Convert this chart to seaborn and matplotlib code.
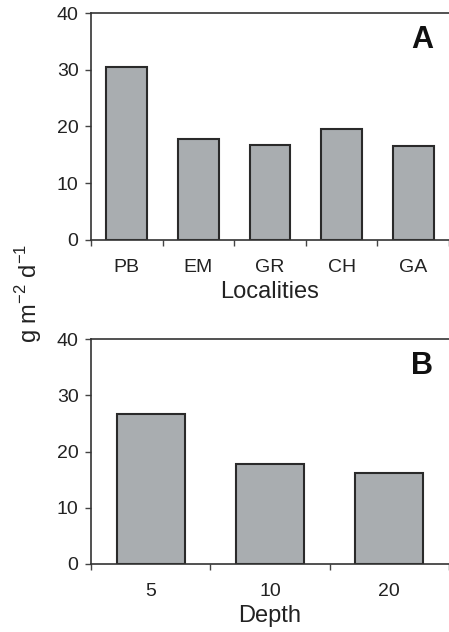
import matplotlib
matplotlib.use("Agg")
import matplotlib.pyplot as plt
import seaborn as sns
import pandas as pd
import numpy as np

# Sedimentation rates by locality and by depth
localities = ["PB", "EM", "GR", "CH", "GA"]
locality_rates = [30.5, 17.8, 16.7, 19.6, 16.6]

depths = ["5", "10", "20"]
depth_rates = [26.7, 17.7, 16.2]

y_ticks = [0, 10, 20, 30, 40]

sns.set_theme(style="white")
plt.rcParams["font.family"] = ["Liberation Sans", "DejaVu Sans"]
plt.rcParams["mathtext.fontset"] = "custom"
plt.rcParams["mathtext.rm"] = "Liberation Sans"

text_color = "#222222"
bar_color = "#a9adb0"
edge_color = "#2a2a2a"

fig = plt.figure(figsize=(4.49, 6.32), dpi=100)
W, H = 449, 632


def make_axes(top_px, bottom_px):
    left = 91 / W
    return fig.add_axes([left, 1 - bottom_px / H, 1.0 - left, (bottom_px - top_px) / H])


def style_axes(ax, n, xlabel, tag):
    ax.set_ylim(0, 40)
    ax.set_xlim(-0.5, n - 0.5)
    ax.set_yticks(y_ticks)
    ax.set_yticklabels([str(t) for t in y_ticks])
    ax.set_xticks(np.arange(n))
    ax.set_xticks(np.arange(n + 1) - 0.5, minor=True)
    ax.tick_params(axis="x", which="major", length=0, pad=14, labelsize=14, labelcolor=text_color)
    ax.tick_params(axis="x", which="minor", length=4, width=1, color="#444444", direction="out", bottom=True)
    ax.tick_params(axis="y", length=4, width=1, color="#444444", direction="out", left=True,
                   labelsize=14, labelcolor=text_color, pad=5)
    for side in ["left", "top", "bottom"]:
        ax.spines[side].set_visible(True)
        ax.spines[side].set_color("#333333")
        ax.spines[side].set_linewidth(1.2)
    ax.spines["right"].set_visible(False)
    ax.set_xlabel(xlabel, fontsize=17, color=text_color, labelpad=3)
    ax.set_ylabel("")
    ax.text(0.925, 0.88, tag, transform=ax.transAxes, fontsize=22, fontweight="bold",
            color="#111111", ha="center", va="center")


ax_a = make_axes(13, 240)
df_a = pd.DataFrame({"Locality": localities, "Rate": locality_rates})
sns.barplot(data=df_a, x="Locality", y="Rate", order=localities, color=bar_color,
            saturation=1, width=0.57, edgecolor=edge_color, linewidth=1.5, ax=ax_a)
style_axes(ax_a, len(localities), "Localities", "A")

ax_b = make_axes(339, 564)
df_b = pd.DataFrame({"Depth": depths, "Rate": depth_rates})
sns.barplot(data=df_b, x="Depth", y="Rate", order=depths, color=bar_color,
            saturation=1, width=0.57, edgecolor=edge_color, linewidth=1.5, ax=ax_b)
style_axes(ax_b, len(depths), "Depth", "B")

fig.text(29 / W, 1 - 293 / H, r"g m$^{-2}$ d$^{-1}$", rotation=90, ha="center", va="center",
         fontsize=17, color=text_color)

fig.savefig("out.png", dpi=100, facecolor="white")
